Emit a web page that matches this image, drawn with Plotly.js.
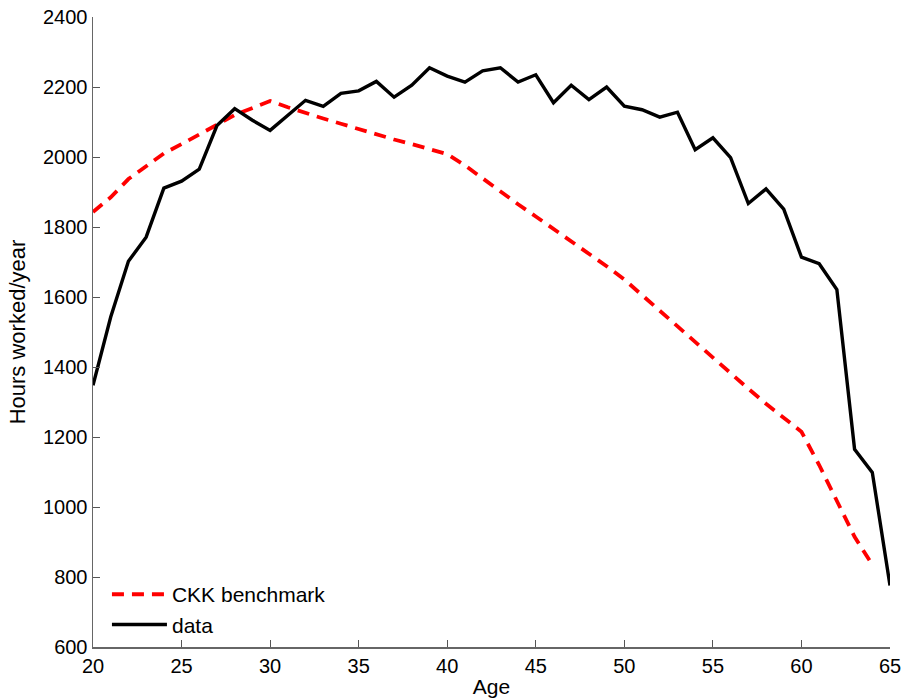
<!DOCTYPE html>
<html>
<head>
<meta charset="utf-8">
<script src="https://cdn.plot.ly/plotly-3.0.1.min.js"></script>
<style>html,body{margin:0;padding:0;background:#fff;}#chart{width:903px;height:698px;}</style>
</head>
<body>
<div id="chart"></div>
<script>
const ages = [20,21,22,23,24,25,26,27,28,29,30,31,32,33,34,35,36,37,38,39,40,41,42,43,44,45,46,47,48,49,50,51,52,53,54,55,56,57,58,59,60,61,62,63,64,65];
const dataHours = [1348,1543,1702,1771,1911,1931,1965,2090,2138,2105,2076,2119,2162,2145,2182,2189,2216,2171,2205,2255,2231,2214,2246,2255,2214,2235,2155,2205,2164,2200,2145,2135,2114,2128,2021,2055,1998,1867,1909,1851,1714,1695,1621,1165,1099,776];
const ckkAges = [20,21,22,23,24,25,26,27,28,29,30,31,32,33,34,35,36,37,38,39,40,41,42,43,44,45,46,47,48,49,50,51,52,53,54,55,56,57,58,59,60,61,62,63,64];
const ckkHours = [1843,1885,1937,1975,2010,2037,2063,2092,2120,2141,2160,2142,2125,2110,2095,2080,2063,2050,2037,2022,2008,1976,1938,1900,1865,1830,1795,1760,1722,1688,1650,1605,1563,1515,1470,1425,1380,1338,1295,1255,1215,1120,1020,915,835];
const xTicks = [20,25,30,35,40,45,50,55,60,65];
const yTicks = [600,800,1000,1200,1400,1600,1800,2000,2200,2400];

const fam = 'Liberation Sans, Arial, sans-serif';
const tickFont = {family: fam, size: 20, color: '#000'};
const legFont = {family: fam, size: 21, color: '#000'};
const xTitleFont = {family: fam, size: 21, color: '#000'};
const yTitleFont = {family: fam, size: 22, color: '#000'};

const traces = [
  {x: ckkAges, y: ckkHours, mode: 'lines', name: 'CKK benchmark',
   line: {color: '#ff0000', width: 3.8, dash: '12px,8px'}},
  {x: ages, y: dataHours, mode: 'lines', name: 'data',
   line: {color: '#000000', width: 3.4}}
];

const layout = {
  width: 903, height: 698,
  margin: {l: 93, r: 13, t: 17, b: 51},
  paper_bgcolor: '#fff', plot_bgcolor: '#fff',
  font: tickFont,
  showlegend: true,
  legend: {x: 0.0175, y: 0.003, xanchor: 'left', yanchor: 'bottom', bgcolor: 'rgba(0,0,0,0)',
           font: legFont, itemwidth: 55, tracegroupgap: 0},
  xaxis: {range: [20, 65], tickvals: xTicks, ticktext: xTicks.map(String),
          showgrid: false, zeroline: false, showline: true, linecolor: '#666', linewidth: 1.5,
          ticks: 'inside', ticklen: 7, tickcolor: '#555', tickwidth: 1,
          tickfont: tickFont, title: {text: 'Age', font: xTitleFont, standoff: 5}},
  yaxis: {range: [600, 2400], tickvals: yTicks, ticktext: yTicks.map(String),
          showgrid: false, zeroline: false, showline: true, linecolor: '#666', linewidth: 1.5,
          ticks: 'inside', ticklen: 7, tickcolor: '#555', tickwidth: 1,
          tickfont: tickFont, title: {text: 'Hours worked/year', font: yTitleFont, standoff: 11}}
};

Plotly.newPlot('chart', traces, layout, {displayModeBar: false, staticPlot: true});
</script>
</body>
</html>
